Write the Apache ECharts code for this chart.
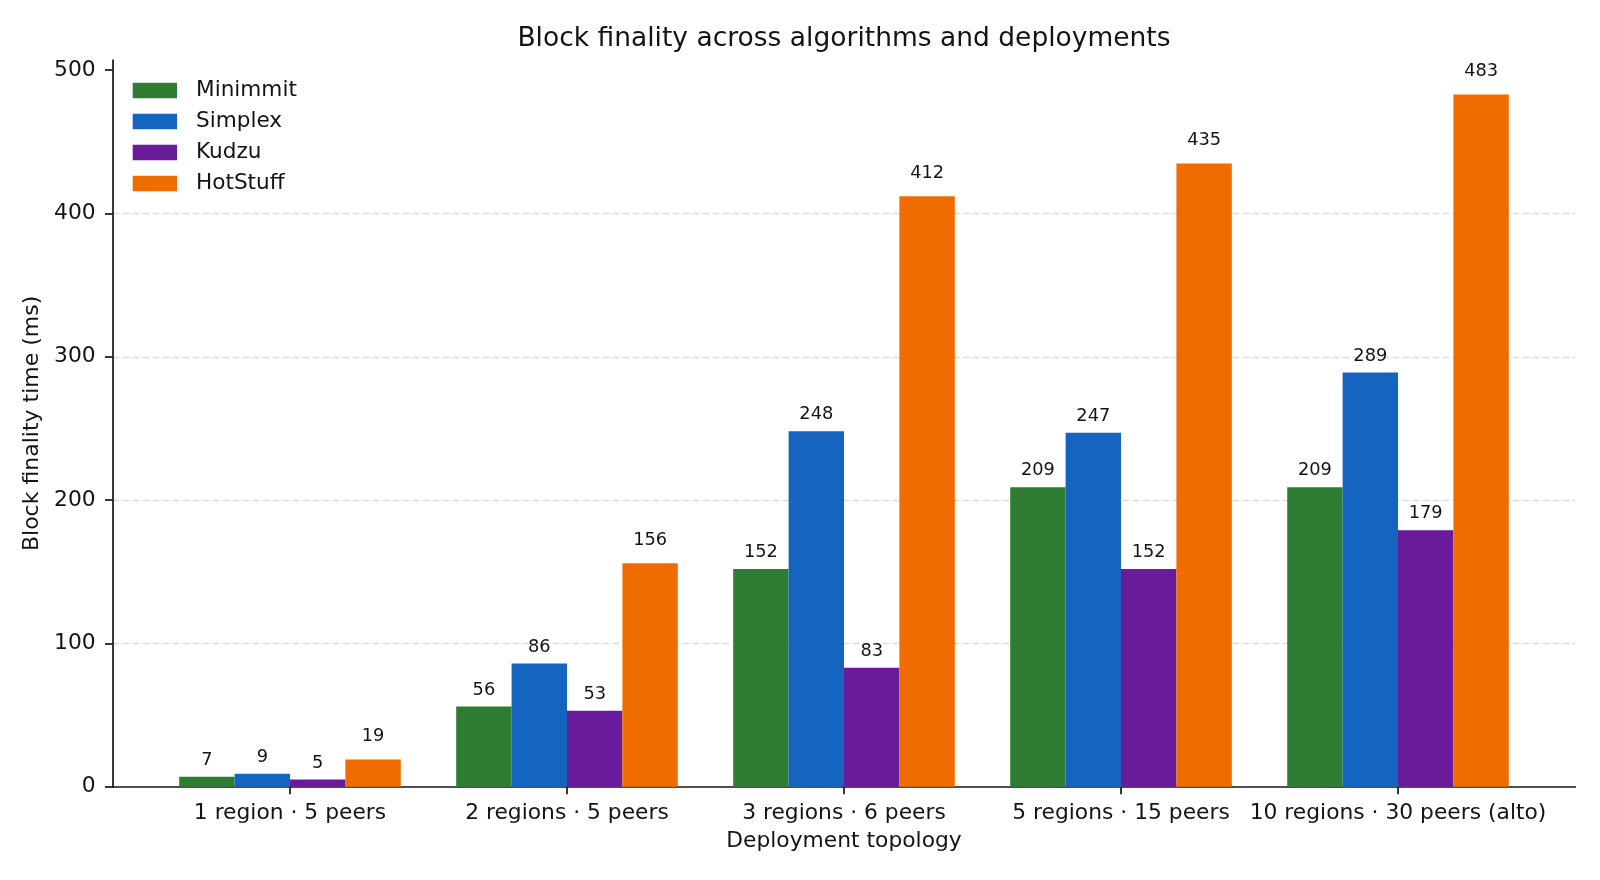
<!DOCTYPE html>
<html>
<head>
<meta charset="utf-8">
<title>Block finality</title>
<script src="https://cdn.jsdelivr.net/npm/echarts@6/dist/echarts.min.js"></script>
<style>
  html, body { margin: 0; padding: 0; background: #fff; }
  #chart { width: 1600px; height: 880px; }
</style>
</head>
<body>
<div id="chart"></div>
<script>
// deployments on the x axis
const topologies = [
  '1 region · 5 peers',
  '2 regions · 5 peers',
  '3 regions · 6 peers',
  '5 regions · 15 peers',
  '10 regions · 30 peers (alto)'
];
const algorithms = ['Minimmit', 'Simplex', 'Kudzu', 'HotStuff'];

// block finality, ms
const minimmit = [7, 56, 152, 209, 209];
const simplex = [9, 86, 248, 247, 289];
const kudzu = [5, 53, 83, 152, 179];
const hotstuff = [19, 156, 412, 435, 483];

const yTicks = [0, 100, 200, 300, 400, 500];
const colors = ['#2e7d32', '#1565c0', '#6a1b9a', '#ef6c00'];

const font = 'DejaVu Sans';
const ink = '#141414';

const values = [minimmit, simplex, kudzu, hotstuff];
const xIdx = topologies.map((_, i) => i);
const yMax = Math.max(...hotstuff) * 1.05;

const chart = echarts.init(document.getElementById('chart'), null, { renderer: 'canvas' });

const series = algorithms.map((name, k) => ({
  name,
  type: 'bar',
  data: xIdx.map(i => [i, values[k][i]]),
  barWidth: '20%',
  barGap: '0%',
  itemStyle: { color: colors[k] },
  label: {
    show: true,
    position: 'top',
    distance: name === 'HotStuff' ? 14 : 7.5,
    fontFamily: font,
    fontSize: 17.8,
    color: ink,
    formatter: p => p.value[1]
  }
}));

chart.setOption({
  animation: false,
  backgroundColor: '#fff',
  textStyle: { fontFamily: font },
  title: {
    text: 'Block finality across algorithms and deployments',
    left: 844,
    top: 26,
    padding: 0,
    textAlign: 'center',
    textStyle: { fontFamily: font, fontSize: 26.5, fontWeight: 'normal', color: ink }
  },
  legend: {
    orient: 'vertical',
    left: 132.7,
    top: 79.5,
    padding: 0,
    icon: 'rect',
    itemWidth: 44.3,
    itemHeight: 15.7,
    itemGap: 9,
    data: algorithms,
    textStyle: {
      fontFamily: font,
      fontSize: 21.6,
      lineHeight: 22,
      color: ink,
      padding: [0, 0, 0, 14]
    }
  },
  grid: { left: 112.7, right: 24.7, top: 60, bottom: 93.3, containLabel: false },
  xAxis: {
    type: 'value',
    min: -0.64,
    max: 4.64,
    name: 'Deployment topology',
    nameLocation: 'middle',
    nameGap: 44,
    nameTextStyle: { fontFamily: font, fontSize: 21.8, color: ink },
    axisLine: { onZero: false, lineStyle: { color: ink, width: 1.7 } },
    axisTick: { show: true, length: 7.5, customValues: xIdx, lineStyle: { color: ink, width: 1.7 } },
    axisLabel: {
      customValues: xIdx,
      margin: 16,
      fontFamily: font,
      fontSize: 21.8,
      color: ink,
      formatter: v => topologies[Math.round(v)] || ''
    },
    splitLine: { show: false }
  },
  yAxis: {
    type: 'value',
    min: 0,
    max: yMax,
    name: 'Block finality time (ms)',
    nameLocation: 'middle',
    nameGap: 65,
    nameRotate: 90,
    nameTextStyle: { fontFamily: font, fontSize: 22, color: ink },
    axisLine: { show: true, onZero: false, lineStyle: { color: ink, width: 1.7 } },
    axisTick: { show: true, length: 7.7, customValues: yTicks, lineStyle: { color: ink, width: 1.7 } },
    axisLabel: {
      customValues: yTicks,
      margin: 17,
      fontFamily: font,
      fontSize: 21.8,
      color: ink
    },
    splitLine: {
      show: true,
      showMinLine: false,
      showMaxLine: false,
      lineStyle: { color: '#dcdcdc', width: 1.3, type: [6.5, 3.5] }
    }
  },
  series
});
</script>
</body>
</html>
